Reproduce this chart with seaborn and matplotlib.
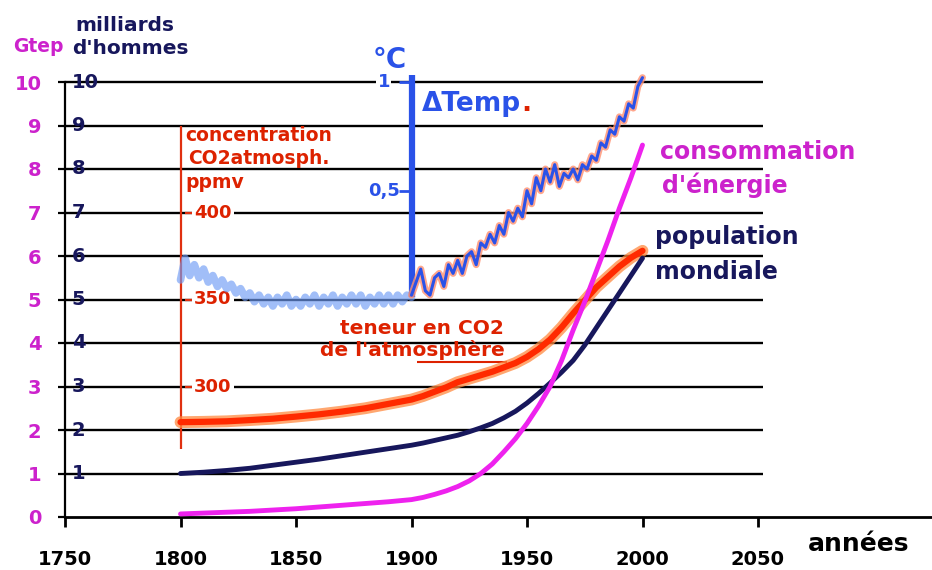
import numpy as np
import pandas as pd
import matplotlib
matplotlib.use("Agg")
import matplotlib.pyplot as plt
import seaborn as sns

# ---------------- data ----------------
years_pre = list(range(1800, 1901, 2))
temp_pre = [0.09, 0.19, 0.11, 0.16, 0.10, 0.14, 0.08, 0.11, 0.06, 0.09,
            0.05, 0.07, 0.03, 0.05, 0.01, 0.03, -0.01, 0.02, -0.02, 0.01,
            -0.03, 0.01, -0.02, 0.02, -0.03, 0.00, -0.03, 0.01, -0.02, 0.02,
            -0.03, 0.01, -0.02, 0.02, -0.03, 0.01, -0.02, 0.02, -0.02, 0.02,
            -0.03, 0.01, -0.02, 0.02, -0.02, 0.02, -0.02, 0.02, -0.01, 0.02,
            0.01]
years_post = list(range(1900, 2001, 2))
temp_post = [0.02, 0.08, 0.14, 0.04, 0.02, 0.10, 0.12, 0.06, 0.16, 0.12,
             0.18, 0.12, 0.20, 0.22, 0.16, 0.26, 0.24, 0.30, 0.26, 0.34,
             0.30, 0.40, 0.36, 0.42, 0.38, 0.50, 0.44, 0.56, 0.50, 0.60,
             0.54, 0.62, 0.52, 0.58, 0.56, 0.60, 0.55, 0.62, 0.60, 0.66,
             0.64, 0.72, 0.70, 0.78, 0.76, 0.84, 0.82, 0.90, 0.88, 0.98,
             1.02]
years = [1800, 1810, 1820, 1830, 1840, 1850, 1860, 1870, 1880, 1890,
         1900, 1905, 1910, 1915, 1920, 1925, 1930, 1935, 1940, 1945, 1950,
         1955, 1960, 1965, 1970, 1975, 1980, 1985, 1990, 1995, 2000]
co2_ppm = [279.5, 279.7, 280.0, 280.7, 281.5, 282.7, 284.0, 285.6, 287.5, 290.0,
           292.5, 294.5, 297.0, 299.5, 302.5, 304.5, 306.5, 308.5, 311.0, 313.5, 317.0,
           321.5, 327.0, 334.0, 342.0, 349.5, 357.0, 363.0, 369.0, 374.0, 378.0]
population = [1.00, 1.03, 1.07, 1.12, 1.19, 1.26, 1.33, 1.41, 1.49, 1.57,
              1.65, 1.70, 1.76, 1.82, 1.88, 1.96, 2.05, 2.15, 2.28, 2.43, 2.62,
              2.84, 3.08, 3.33, 3.60, 3.95, 4.35, 4.75, 5.15, 5.55, 5.95]
energy = [0.07, 0.09, 0.11, 0.13, 0.16, 0.19, 0.23, 0.27, 0.31, 0.35,
          0.40, 0.45, 0.52, 0.60, 0.70, 0.83, 1.00, 1.22, 1.50, 1.80, 2.15,
          2.55, 3.00, 3.60, 4.30, 4.95, 5.65, 6.35, 7.10, 7.80, 8.55]

x_ticks = [1750, 1800, 1850, 1900, 1950, 2000, 2050]
left_ticks = list(range(0, 11))
navy_labels = list(range(1, 11))
co2_ticks = [300, 350, 400]
temp_ticks = [0.5, 1.0]
temp_tick_labels = ["0,5", "1"]

# ---------------- style ----------------
sns.set_style("white")
plt.rcParams['font.family'] = ['DejaVu Sans']
plt.rcParams['font.weight'] = 'bold'

MAG_TXT = '#cc22cc'
MAG_LINE = '#ee22ee'
NAVY = '#17175c'
RED = '#dd2200'
BLUE = '#2a52e8'

W, H = 932, 570
fig = plt.figure(figsize=(W / 100, H / 100), dpi=100)
ax = fig.add_axes([65 / W, 53 / H, (W - 65) / W, 517 / H])
ax.set_xlim(1750, 1750 + (W - 65) / 2.31)
ax.set_ylim(0, 517 / 43.5)
ax.set_facecolor('white')


def co2_to_v(p):
    return 3 + (np.asarray(p, dtype=float) - 300) / 25


def temp_to_v(t):
    return 5 + 5 * np.asarray(t, dtype=float)


# grid lines
ax.hlines(left_ticks[1:], 1750, 2052, color='black', lw=1.7, zorder=1)

# spines
for s in ['top', 'right']:
    ax.spines[s].set_visible(False)
ax.spines['left'].set_bounds(0, 10)
ax.spines['left'].set_color('black')
ax.spines['left'].set_linewidth(1.6)
ax.spines['bottom'].set_color('black')
ax.spines['bottom'].set_linewidth(2.0)

ax.set_xticks(x_ticks)
ax.set_xticklabels([str(v) for v in x_ticks])
ax.tick_params(axis='x', length=7.5, width=2, direction='out', pad=16,
               labelsize=14, colors='black', bottom=True)
ax.set_yticks(left_ticks)
ax.set_yticklabels([str(v) for v in left_ticks])
ax.tick_params(axis='y', length=5, width=1.6, direction='out', pad=12,
               labelsize=14, color='black', labelcolor=MAG_TXT, left=True)

# navy labels (inside, right of axis)
for v in navy_labels:
    ax.text(1753, v, str(v), color=NAVY, fontsize=14, ha='left', va='center', zorder=3)

# CO2 axis
ax.vlines(1800, co2_to_v(264), co2_to_v(450), color='#e03010', lw=1.6, zorder=2)
ax.hlines(co2_to_v(co2_ticks), 1802, 1805.4, color='#e03010', lw=1.6, zorder=3)
for p in co2_ticks:
    ax.text(1814, co2_to_v(p), str(p), color=RED, fontsize=13, ha='center', va='center',
            zorder=3, bbox=dict(facecolor='white', edgecolor='none', pad=1.5))

# temperature axis
ax.vlines(1900, temp_to_v(0.01), temp_to_v(1.03), color=BLUE, lw=4.5, zorder=4)
ax.hlines(temp_to_v(temp_ticks), 1894.5, 1900, color=BLUE, lw=2, zorder=4)
for t, lab in zip(temp_ticks, temp_tick_labels):
    ax.text(1888, temp_to_v(t), lab, color=BLUE, fontsize=13, ha='center', va='center',
            zorder=3, bbox=dict(facecolor='white', edgecolor='none', pad=1.0))

# ---------------- curves ----------------
df_pre = pd.DataFrame({'year': years_pre, 'v': temp_to_v(temp_pre)})
df_post = pd.DataFrame({'year': years_post, 'v': temp_to_v(temp_post)})
df = pd.DataFrame({'year': years, 'co2': co2_to_v(co2_ppm),
                   'pop': population, 'energy': energy})

sns.lineplot(data=df_pre, x='year', y='v', ax=ax, color='#6f9cf5', lw=5.5, alpha=0.65,
             estimator=None, sort=False, legend=False, zorder=3)
sns.lineplot(data=df, x='year', y='co2', ax=ax, color='#ff8a40', lw=8.5, alpha=0.75,
             estimator=None, sort=False, legend=False, zorder=5, solid_capstyle='round')
sns.lineplot(data=df, x='year', y='co2', ax=ax, color='#ff2a00', lw=4.5,
             estimator=None, sort=False, legend=False, zorder=5, solid_capstyle='round')
sns.lineplot(data=df, x='year', y='pop', ax=ax, color=NAVY, lw=3.5,
             estimator=None, sort=False, legend=False, zorder=6, solid_capstyle='round')
sns.lineplot(data=df, x='year', y='energy', ax=ax, color=MAG_LINE, lw=3.5,
             estimator=None, sort=False, legend=False, zorder=7, solid_capstyle='round')
sns.lineplot(data=df_post, x='year', y='v', ax=ax, color='#ff9070', lw=5.0, alpha=0.8,
             estimator=None, sort=False, legend=False, zorder=6, solid_capstyle='round')
sns.lineplot(data=df_post, x='year', y='v', ax=ax, color=BLUE, lw=2.2,
             estimator=None, sort=False, legend=False, zorder=6)
ax.set_xlabel('')
ax.set_ylabel('')

# ---------------- annotations ----------------
fig.text(13 / W, 1 - 47 / H, 'Gtep', color=MAG_TXT, fontsize=13.5, ha='left', va='center')
ax.text(1754.3, 11.31, 'milliards', color=NAVY, fontsize=14.5, ha='left', va='center')
ax.text(1753, 10.76, "d'hommes", color=NAVY, fontsize=14.5, ha='left', va='center')

ax.text(1890.7, 10.5, '°C', color=BLUE, fontsize=20, ha='center', va='center', zorder=5)
t1 = ax.text(1904.5, 9.49, 'ΔTemp', color=BLUE, fontsize=19, ha='left', va='center', zorder=5)
ax.annotate('.', xy=(1, 0), xycoords=t1, color=RED, fontsize=19, ha='left', va='bottom')

ax.text(1801.9, 8.76, 'concentration', color=RED, fontsize=13.5, ha='left', va='center')
ax.text(1803.2, 8.25, 'CO2atmosph.', color=RED, fontsize=13.5, ha='left', va='center')
ax.text(1801.9, 7.68, 'ppmv', color=RED, fontsize=13.5, ha='left', va='center')

ax.text(1869, 4.34, 'teneur en CO2', color=RED, fontsize=14.5, ha='left', va='center', zorder=4)
ax.text(1860.4, 3.84, "de l'atmosphère", color=RED, fontsize=14.5, ha='left', va='center', zorder=4)
ax.hlines(3.56, 1902.4, 1941.3, color=RED, lw=1.5, zorder=4)

ax.text(2007.6, 8.39, 'consommation', color=MAG_TXT, fontsize=17, ha='left', va='center')
ax.text(2008.4, 7.63, "d'énergie", color=MAG_TXT, fontsize=17, ha='left', va='center')
ax.text(2005.4, 6.44, 'population', color=NAVY, fontsize=17, ha='left', va='center')
ax.text(2005.4, 5.63, 'mondiale', color=NAVY, fontsize=17, ha='left', va='center')

ax.text(2071.6, -0.62, 'années', color='black', fontsize=18, ha='left', va='center',
        clip_on=False)

fig.savefig('out.png', dpi=100)
